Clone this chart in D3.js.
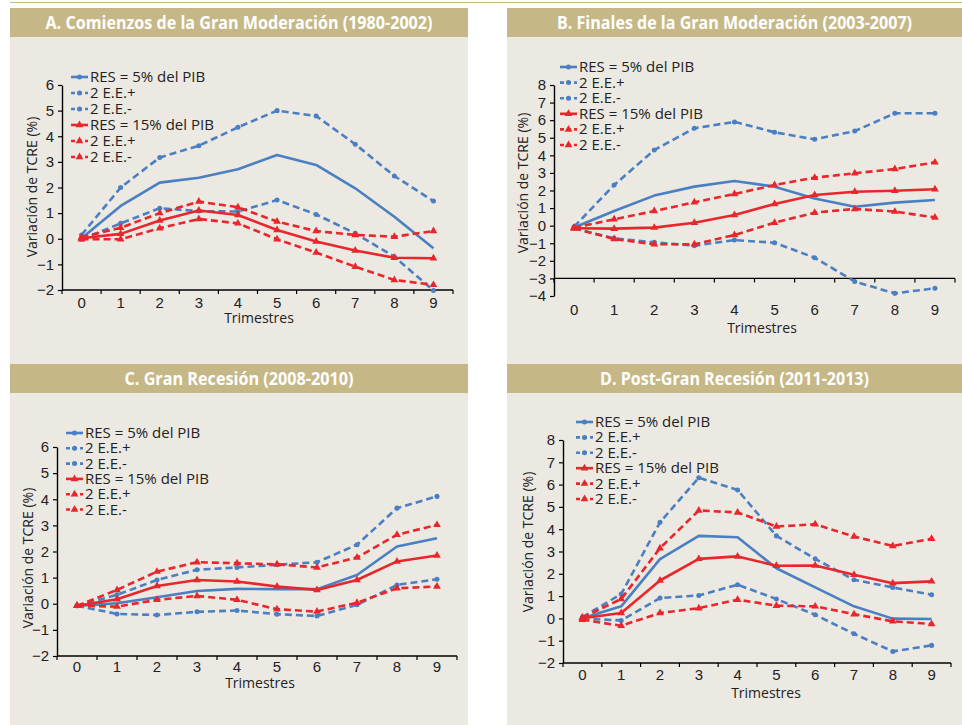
<!DOCTYPE html>
<html>
<head>
<meta charset="utf-8">
<script src="https://cdn.jsdelivr.net/npm/d3@7"></script>
<style>
  html, body { margin: 0; padding: 0; background: #fff; }
  svg { display: block; font-family: "Open Sans", "Noto Sans", sans-serif; }
</style>
</head>
<body>
<svg id="chart" width="962" height="725"></svg>
<script>
// quarters after the shock
const quarters = [0, 1, 2, 3, 4, 5, 6, 7, 8, 9];
const seriesNames = ["RES = 5% del PIB", "2 E.E.+", "2 E.E.-", "RES = 15% del PIB", "2 E.E.+", "2 E.E.-"];

// A. 1980-2002
const aRes5 = [0.02, 1.28, 2.19, 2.38, 2.71, 3.27, 2.88, 1.97, 0.86, -0.37];
const aRes5Up = [0.15, 2.0, 3.17, 3.63, 4.35, 5.0, 4.79, 3.69, 2.45, 1.47];
const aRes5Dn = [-0.02, 0.6, 1.19, 1.08, 1.06, 1.51, 0.95, 0.21, -0.7, -2.02];
const aRes15 = [0.02, 0.19, 0.71, 1.1, 0.93, 0.34, -0.11, -0.46, -0.74, -0.76];
const aRes15Up = [0.06, 0.43, 1.0, 1.45, 1.23, 0.67, 0.3, 0.15, 0.08, 0.3];
const aRes15Dn = [-0.02, -0.02, 0.41, 0.77, 0.6, -0.02, -0.54, -1.09, -1.61, -1.8];
const aTicks = [-2, -1, 0, 1, 2, 3, 4, 5, 6];

// B. 2003-2007
const bRes5 = [-0.1, 0.83, 1.71, 2.22, 2.54, 2.22, 1.55, 1.08, 1.31, 1.46];
const bRes5Up = [-0.06, 2.31, 4.3, 5.54, 5.9, 5.31, 4.91, 5.38, 6.39, 6.39];
const bRes5Dn = [-0.15, -0.72, -0.95, -1.14, -0.82, -0.97, -1.82, -3.18, -3.85, -3.56];
const bRes15 = [-0.15, -0.17, -0.11, 0.17, 0.61, 1.23, 1.74, 1.93, 1.99, 2.07];
const bRes15Up = [-0.11, 0.36, 0.83, 1.33, 1.8, 2.31, 2.73, 2.98, 3.22, 3.6];
const bRes15Dn = [-0.15, -0.76, -1.06, -1.06, -0.53, 0.17, 0.74, 0.95, 0.8, 0.47];
const bTicks = [-4, -3, -2, -1, 0, 1, 2, 3, 4, 5, 6, 7, 8];

// C. 2008-2010
const cRes5 = [-0.08, 0.02, 0.25, 0.49, 0.57, 0.56, 0.56, 1.1, 2.19, 2.51];
const cRes5Up = [-0.08, 0.34, 0.91, 1.3, 1.39, 1.49, 1.59, 2.26, 3.66, 4.11];
const cRes5Dn = [-0.08, -0.39, -0.43, -0.31, -0.26, -0.4, -0.47, -0.04, 0.72, 0.94];
const cRes15 = [-0.08, 0.17, 0.68, 0.91, 0.85, 0.66, 0.53, 0.91, 1.62, 1.85];
const cRes15Up = [-0.08, 0.53, 1.23, 1.59, 1.55, 1.51, 1.39, 1.77, 2.64, 3.02];
const cRes15Dn = [-0.08, -0.11, 0.15, 0.3, 0.15, -0.21, -0.3, 0.04, 0.59, 0.66];
const cTicks = [-2, -1, 0, 1, 2, 3, 4, 5, 6];

// D. 2011-2013
const dRes5 = [0.01, 0.54, 2.66, 3.7, 3.64, 2.25, 1.39, 0.54, -0.01, -0.03];
const dRes5Up = [0.06, 1.09, 4.31, 6.31, 5.76, 3.7, 2.67, 1.73, 1.39, 1.06];
const dRes5Dn = [-0.01, -0.09, 0.91, 1.03, 1.51, 0.87, 0.16, -0.69, -1.48, -1.21];
const dRes15 = [0.01, 0.24, 1.7, 2.67, 2.78, 2.36, 2.37, 1.96, 1.58, 1.66];
const dRes15Up = [0.04, 0.87, 3.15, 4.84, 4.75, 4.12, 4.22, 3.67, 3.25, 3.57];
const dRes15Dn = [-0.06, -0.33, 0.24, 0.46, 0.84, 0.57, 0.54, 0.19, -0.13, -0.25];
const dTicks = [-2, -1, 0, 1, 2, 3, 4, 5, 6, 7, 8];

const BLUE = "#4a7fc2";
const RED = "#e8262b";
const GOLD = "#c6b886";
const BG = "#ece9e2";

// layout of the four panels (pixel boxes only, values come from the arrays above)
const panels = [
  { title: "A. Comienzos de la Gran Moderación (1980-2002)", titleW: 387,
    box: [10, 8, 468, 364], plot: [62, 85, 453, 290], ticks: aTicks, cross: -2,
    series: [aRes5, aRes5Up, aRes5Dn, aRes15, aRes15Up, aRes15Dn],
    yTitle: [32, 187], legend: [71, 77, 16], labelY: 303, xTitle: [259, 318] },
  { title: "B. Finales de la Gran Moderación (2003-2007)", titleW: 355,
    box: [507, 8, 962, 364], plot: [554, 85, 955, 296], ticks: bTicks, cross: -3,
    series: [bRes5, bRes5Up, bRes5Dn, bRes15, bRes15Up, bRes15Dn],
    yTitle: [523, 183], legend: [560, 67, 15.6], labelY: 310, xTitle: [762, 328] },
  { title: "C. Gran Recesión (2008-2010)", titleW: 229,
    box: [10, 364, 468, 725], plot: [57, 447, 457, 656], ticks: cTicks, cross: -2,
    series: [cRes5, cRes5Up, cRes5Dn, cRes15, cRes15Up, cRes15Dn],
    yTitle: [28, 558], legend: [66, 433, 15.3], labelY: 667, xTitle: [260, 683] },
  { title: "D. Post-Gran Recesión (2011-2013)", titleW: 269,
    box: [507, 364, 962, 725], plot: [563, 440, 951, 663], ticks: dTicks, cross: -2,
    series: [dRes5, dRes5Up, dRes5Dn, dRes15, dRes15Up, dRes15Dn],
    yTitle: [528, 542], legend: [576, 422, 15.4], labelY: 675, xTitle: [766, 693] }
];

const styles = [
  { color: BLUE, dash: null, marker: "circle", onLine: false },
  { color: BLUE, dash: "7,4", marker: "circle", onLine: true },
  { color: BLUE, dash: "7,4", marker: "circle", onLine: true },
  { color: RED, dash: null, marker: "triangle", onLine: true },
  { color: RED, dash: "7,4", marker: "triangle", onLine: true },
  { color: RED, dash: "7,4", marker: "triangle", onLine: true }
];

const svg = d3.select("#chart");

// thin gold rule at the very top
svg.append("line")
  .attr("x1", 10).attr("x2", 962).attr("y1", 2.5).attr("y2", 2.5)
  .attr("stroke", GOLD).attr("stroke-width", 1.2);

function marker(g, kind, color, x, y) {
  const sym = kind === "circle" ? d3.symbolCircle : d3.symbolTriangle;
  const size = kind === "circle" ? 20 : 26;
  g.append("path")
    .attr("d", d3.symbol(sym, size)())
    .attr("transform", `translate(${x},${y})`)
    .attr("fill", color);
}

panels.forEach((p) => {
  const g = svg.append("g");
  const [bx0, by0, bx1, by1] = p.box;
  const [left, top, right, bottom] = p.plot;

  g.append("rect").attr("x", bx0).attr("y", by0)
    .attr("width", bx1 - bx0).attr("height", by1 - by0).attr("fill", BG);
  g.append("rect").attr("x", bx0).attr("y", by0)
    .attr("width", bx1 - bx0).attr("height", 29).attr("fill", GOLD);
  g.append("text")
    .attr("x", (bx0 + bx1) / 2).attr("y", by0 + 21)
    .attr("text-anchor", "middle")
    .attr("fill", "#fff").attr("font-weight", 700).attr("font-size", 17)
    .attr("textLength", p.titleW).attr("lengthAdjust", "spacingAndGlyphs")
    .text(p.title);

  const x = d3.scaleBand().domain(quarters).range([left, right]);
  const y = d3.scaleLinear().domain(d3.extent(p.ticks)).range([bottom, top]);
  const cx = (d) => x(d) + x.bandwidth() / 2;

  // y axis
  const ya = g.append("g").attr("transform", `translate(${left},0)`)
    .call(d3.axisLeft(y).tickValues(p.ticks).tickSize(4).tickSizeOuter(0).tickPadding(4));
  ya.select(".domain").attr("stroke", "#000").attr("stroke-width", 1.4);
  ya.selectAll(".tick line").attr("stroke", "#000").attr("stroke-width", 1.2);
  ya.selectAll("text").attr("font-size", 15).attr("fill", "#222");

  // x axis line with ticks between categories
  const yc = y(p.cross);
  g.append("line").attr("x1", left).attr("x2", right).attr("y1", yc).attr("y2", yc)
    .attr("stroke", "#000").attr("stroke-width", 1.4);
  g.selectAll(".xtick").data(d3.range(quarters.length + 1)).join("line")
    .attr("x1", (i) => left + i * x.step()).attr("x2", (i) => left + i * x.step())
    .attr("y1", yc).attr("y2", yc + 4)
    .attr("stroke", "#000").attr("stroke-width", 1.2);
  const xa = g.append("g").attr("transform", `translate(0,${p.labelY - 6})`)
    .call(d3.axisBottom(x).tickSize(0).tickPadding(0));
  xa.select(".domain").remove();
  xa.selectAll("text").attr("font-size", 15).attr("fill", "#222").attr("dy", "0.75em");

  g.append("text")
    .attr("x", p.xTitle[0]).attr("y", p.xTitle[1] + 5)
    .attr("text-anchor", "middle").attr("font-size", 14).attr("fill", "#222")
    .text("Trimestres");
  g.append("text")
    .attr("transform", `translate(${p.yTitle[0] + 5},${p.yTitle[1]}) rotate(-90)`)
    .attr("text-anchor", "middle").attr("font-size", 14).attr("fill", "#222")
    .text("Variación de TCRE (%)");

  // lines
  const line = d3.line().x((d, i) => cx(quarters[i])).y((d) => y(d));
  p.series.forEach((vals, k) => {
    const s = styles[k];
    g.append("path").datum(vals)
      .attr("d", line)
      .attr("fill", "none").attr("stroke", s.color).attr("stroke-width", 2.6)
      .attr("stroke-dasharray", s.dash)
      .attr("stroke-linejoin", "round");
    if (s.onLine) {
      vals.forEach((v, i) => marker(g, s.marker, s.color, cx(quarters[i]), y(v)));
    }
  });

  // legend
  const [lx, ly, step] = p.legend;
  seriesNames.forEach((name, k) => {
    const s = styles[k];
    const yy = ly + k * step;
    g.append("line").attr("x1", lx).attr("x2", lx + 17).attr("y1", yy).attr("y2", yy)
      .attr("stroke", s.color).attr("stroke-width", 2.6)
      .attr("stroke-dasharray", s.dash ? "4,3" : null);
    marker(g, s.marker, s.color, lx + 8.5, yy);
    g.append("text").attr("x", lx + 19).attr("y", yy + 5)
      .attr("font-size", 15).attr("fill", "#222").text(name);
  });
});
</script>
</body>
</html>
